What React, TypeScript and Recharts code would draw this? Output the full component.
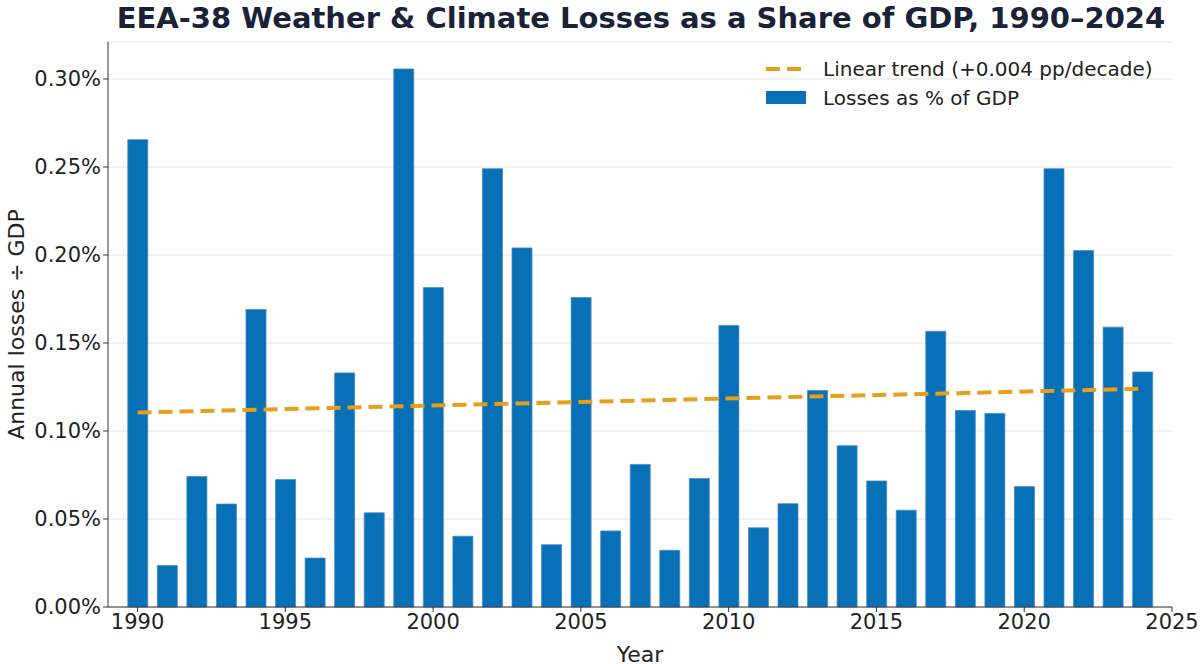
import { ComposedChart, Bar, Line, XAxis, YAxis, CartesianGrid } from "recharts";

const years = [
  1990, 1991, 1992, 1993, 1994, 1995, 1996, 1997, 1998, 1999, 2000, 2001,
  2002, 2003, 2004, 2005, 2006, 2007, 2008, 2009, 2010, 2011, 2012, 2013,
  2014, 2015, 2016, 2017, 2018, 2019, 2020, 2021, 2022, 2023, 2024,
];
const losses = [
  0.2655, 0.0236, 0.0741, 0.0585, 0.169, 0.0724, 0.0278, 0.133, 0.0535,
  0.3057, 0.1815, 0.0402, 0.249, 0.204, 0.0354, 0.1758, 0.0432, 0.081,
  0.0322, 0.073, 0.16, 0.045, 0.0587, 0.123, 0.0916, 0.0716, 0.055, 0.1566,
  0.1116, 0.11, 0.0684, 0.249, 0.2025, 0.159, 0.1335,
];
const trendYears = [1990, 2024];
const trendValues = [0.1105, 0.124];
const yTicks = [0, 0.05, 0.1, 0.15, 0.2, 0.25, 0.3];
const xTicks = [1990, 1995, 2000, 2005, 2010, 2015, 2020, 2025];

const data = years.map((year, i) => ({ year, value: losses[i] }));
const trend = trendYears.map((year, i) => ({ year, trend: trendValues[i] }));

const FONT = "DejaVu Sans, sans-serif";
const BLUE = "#0870b6";
const ORANGE = "#e69f1b";

export default function App() {
  return (
    <div
      style={{
        position: "absolute",
        left: 0,
        top: 0,
        width: 1200,
        height: 664,
        background: "#fff",
        fontFamily: FONT,
      }}
    >
      <div
        style={{
          position: "absolute",
          top: 1,
          left: 0,
          width: 1282,
          textAlign: "center",
          fontSize: 29,
          fontWeight: "bold",
          color: "#1a2238",
        }}
      >
        EEA-38 Weather &amp; Climate Losses as a Share of GDP, 1990–2024
      </div>
      <ComposedChart
        width={1200}
        height={664}
        margin={{ top: 42, right: 28, left: 0, bottom: 0 }}
        data={data}
      >
        <CartesianGrid vertical={false} stroke="#e2e2e2" strokeWidth={1} />
        <XAxis
          dataKey="year"
          type="number"
          domain={[1989, 2025]}
          ticks={xTicks}
          height={57}
          tick={{ fontSize: 21, fill: "#222", fontFamily: FONT }}
          tickLine={{ stroke: "#333" }}
          axisLine={{ stroke: "#333" }}
          tickSize={5}
          label={{
            value: "Year",
            position: "insideBottom",
            offset: 2,
            fontSize: 22,
            fill: "#222",
            fontFamily: FONT,
          }}
        />
        <YAxis
          type="number"
          domain={[0, 0.321]}
          ticks={yTicks}
          width={108}
          tickFormatter={(v: number) => v.toFixed(2) + "%"}
          tick={{ fontSize: 21, fill: "#222", fontFamily: FONT }}
          tickLine={{ stroke: "#333" }}
          axisLine={{ stroke: "#333" }}
          tickSize={5}
          label={{
            value: "Annual losses ÷ GDP",
            angle: -90,
            position: "insideLeft",
            offset: 16,
            style: { textAnchor: "middle" },
            fontSize: 22,
            fill: "#222",
            fontFamily: FONT,
          }}
        />
        <Bar
          dataKey="value"
          barSize={20}
          fill={BLUE}
          stroke="#4a8cc4"
          strokeWidth={0.8}
          isAnimationActive={false}
        />
        <Line
          data={trend}
          dataKey="trend"
          type="linear"
          stroke={ORANGE}
          strokeWidth={4}
          strokeDasharray="14 7"
          dot={false}
          isAnimationActive={false}
        />
      </ComposedChart>
      <svg
        style={{ position: "absolute", left: 760, top: 55 }}
        width={430}
        height={60}
      >
        <line x1={6} y1={14} x2={46} y2={14} stroke={ORANGE} strokeWidth={4} strokeDasharray="14 7" />
        <text x={63} y={21} fontSize={20} fill="#222" fontFamily={FONT}>
          Linear trend (+0.004 pp/decade)
        </text>
        <rect x={6} y={36} width={40} height={13} fill={BLUE} />
        <text x={63} y={50} fontSize={20} fill="#222" fontFamily={FONT}>
          Losses as % of GDP
        </text>
      </svg>
    </div>
  );
}
